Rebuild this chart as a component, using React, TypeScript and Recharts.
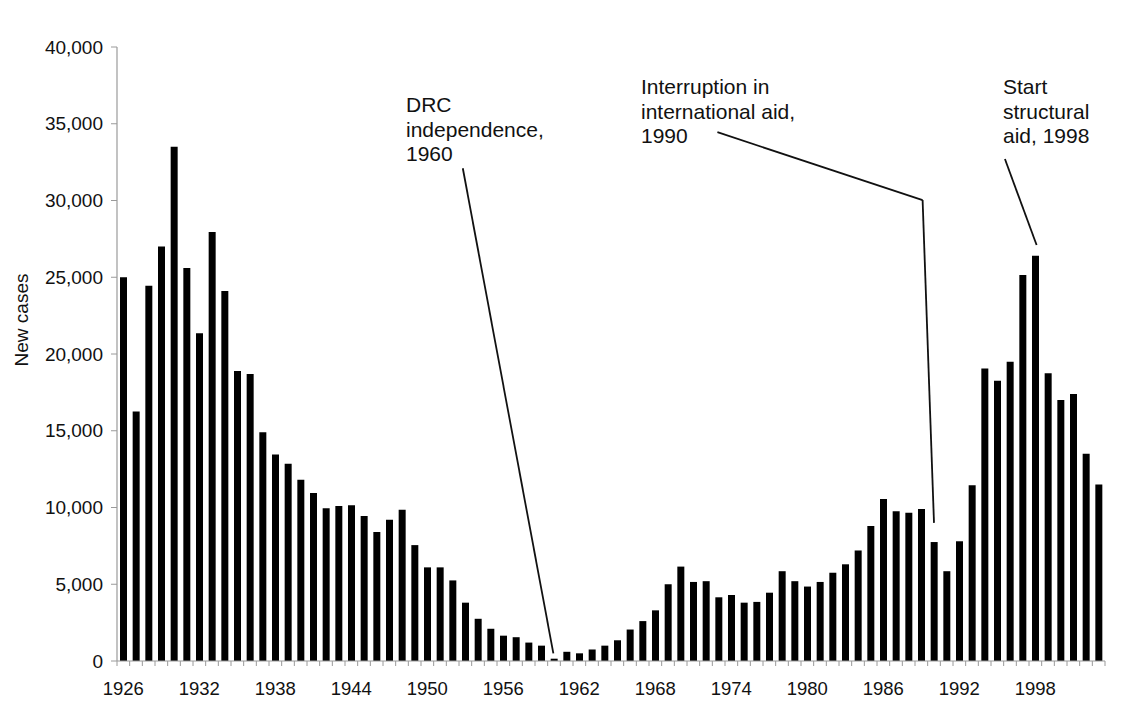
import React from 'react';
import { BarChart, Bar, XAxis, YAxis, ReferenceLine, Label } from 'recharts';

// new cases per year
const years = [
    1926, 1927, 1928, 1929, 1930, 1931, 1932, 1933, 1934, 1935, 1936, 1937, 1938,
    1939, 1940, 1941, 1942, 1943, 1944, 1945, 1946, 1947, 1948, 1949, 1950, 1951,
    1952, 1953, 1954, 1955, 1956, 1957, 1958, 1959, 1960, 1961, 1962, 1963, 1964,
    1965, 1966, 1967, 1968, 1969, 1970, 1971, 1972, 1973, 1974, 1975, 1976, 1977,
    1978, 1979, 1980, 1981, 1982, 1983, 1984, 1985, 1986, 1987, 1988, 1989, 1990,
    1991, 1992, 1993, 1994, 1995, 1996, 1997, 1998, 1999, 2000, 2001, 2002, 2003,
];
const newCases = [
    25000, 16250, 24450, 27000, 33500, 25600, 21350, 27950, 24100, 18900, 18700, 14900, 13450,
    12850, 11800, 10950, 9950, 10100, 10150, 9450, 8400, 9200, 9850, 7550, 6100, 6100,
    5250, 3800, 2750, 2100, 1650, 1550, 1200, 1000, 150, 600, 500, 750, 1000,
    1350, 2050, 2600, 3300, 5000, 6150, 5150, 5200, 4150, 4300, 3800, 3850, 4450,
    5850, 5200, 4850, 5150, 5750, 6300, 7200, 8800, 10550, 9750, 9650, 9900, 7750,
    5850, 7800, 11450, 19050, 18250, 19500, 25150, 26400, 18750, 17000, 17400, 13500, 11500,
];
const yearLabels = [1926, 1932, 1938, 1944, 1950, 1956, 1962, 1968, 1974, 1980, 1986, 1992, 1998];
const yTicks = [0, 5000, 10000, 15000, 20000, 25000, 30000, 35000, 40000];

// annotation text and leader lines (in year / case units)
const notes = [
    { lines: ['DRC', 'independence,', '1960'], left: 398, top: 85 },
    { lines: ['Interruption in', 'international aid,', '1990'], left: 633, top: 67 },
    { lines: ['Start', 'structural', 'aid, 1998'], left: 995, top: 67 },
];
const leaders = [
    [{ x: 1952.8, y: 32100 }, { x: 1959.95, y: 500 }],
    [{ x: 1972.9, y: 34450 }, { x: 1989.1, y: 30030 }],
    [{ x: 1989.1, y: 30030 }, { x: 1990.0, y: 9000 }],
    [{ x: 1995.6, y: 32700 }, { x: 1998.1, y: 27100 }],
];

const data = years.map((year, i) => ({ year, cases: newCases[i] }));
// tick marks sit between the bars
const boundaries = [...years.map(y => y - 0.5), years[years.length - 1] + 0.5];

const FONT = '"Liberation Sans", Arial, Helvetica, sans-serif';
const AXIS = '#9a9a9a';
const TEXT = '#111';

const XTick = (props: any) => {
    const { x, y, payload } = props;
    if (Number.isInteger(payload.value)) {
        return (
            <text x={x} y={y + 29} textAnchor="middle" fontSize={18.5} fontFamily={FONT} fill={TEXT}>
                {payload.value}
            </text>
        );
    }
    return <line x1={x} x2={x} y1={y - 5} y2={y} stroke={AXIS} strokeWidth={1} />;
};

const YLabel = (props: any) => {
    const { viewBox } = props;
    const cx = viewBox.x + 13;
    const cy = viewBox.y + viewBox.height / 2 - 34;
    return (
        <text
            x={cx}
            y={cy}
            transform={`rotate(-90, ${cx}, ${cy})`}
            textAnchor="middle"
            dominantBaseline="central"
            fontSize={19}
            fontFamily={FONT}
            fill={TEXT}
        >
            New cases
        </text>
    );
};

export default function App() {
    return (
        <div style={{ position: 'relative', width: 1120, height: 712, fontFamily: FONT }}>
            <BarChart width={1120} height={712} data={data} margin={{ top: 39, right: 23, bottom: 0, left: 0 }}>
                <XAxis
                    dataKey="year"
                    type="number"
                    domain={[1925.5, 2003.5]}
                    ticks={[...boundaries, ...yearLabels]}
                    interval={0}
                    tick={<XTick />}
                    tickLine={false}
                    tickSize={5}
                    tickMargin={0}
                    height={59}
                    axisLine={{ stroke: AXIS, strokeWidth: 1.2 }}
                />
                <YAxis
                    domain={[0, 40000]}
                    ticks={yTicks}
                    width={109}
                    tickSize={6}
                    tickMargin={8}
                    tickLine={{ stroke: AXIS }}
                    axisLine={{ stroke: AXIS, strokeWidth: 1.2 }}
                    tick={{ fontSize: 19, fontFamily: FONT, fill: TEXT }}
                    tickFormatter={(v: number) => v.toLocaleString('en-US')}
                >
                    <Label content={<YLabel />} />
                </YAxis>
                <Bar dataKey="cases" fill="#000" barSize={7} isAnimationActive={false} />
                {leaders.map((seg, i) => (
                    <ReferenceLine key={i} segment={seg} stroke="#111" strokeWidth={1.8} ifOverflow="visible" />
                ))}
            </BarChart>
            {notes.map((n, i) => (
                <div
                    key={i}
                    style={{
                        position: 'absolute',
                        left: n.left,
                        top: n.top,
                        fontSize: 21,
                        lineHeight: '24.5px',
                        color: TEXT,
                        whiteSpace: 'nowrap',
                    }}
                >
                    {n.lines.map((l, j) => (
                        <div key={j}>{l}</div>
                    ))}
                </div>
            ))}
        </div>
    );
}
